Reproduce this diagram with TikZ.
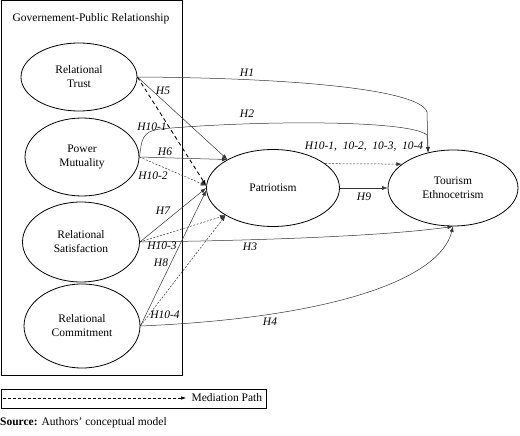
\documentclass[tikz,border=0pt]{standalone}
\usepackage{fontspec}
\setmainfont{Liberation Serif}
\usetikzlibrary{arrows.meta,shapes.geometric}
\begin{document}
\begin{tikzpicture}[x=1pt,y=-1pt,font=\fontsize{11.5}{14}\selectfont,
    var/.style={draw,ellipse,line width=0.8pt,inner sep=0pt,align=center},
    hyp/.style={draw=black!80,line width=0.5pt,-{Latex[length=5.5pt,width=4pt]}},
    med/.style={hyp,dash pattern=on 2pt off 1.5pt},
    medbold/.style={hyp,draw=black,line width=0.9pt,dash pattern=on 4pt off 3pt},
    lbl/.style={font=\fontsize{11.5}{12}\selectfont\itshape,inner sep=0pt}]
  \useasboundingbox (0,0) rectangle (520,436);
  % constructs
  \node[draw,line width=0.6pt,minimum width=181pt,minimum height=374pt,anchor=north west] (gpr) at (1,0.5) {};
  \node (ttl) at (91,19) {Governement-Public Relationship};
  \node[var,minimum width=116pt,minimum height=68pt] (rt) at (79,77) {Relational\\Trust};
  \node[var,minimum width=114pt,minimum height=78pt] (pm) at (82,157) {Power\\Mutuality};
  \node[var,minimum width=117pt,minimum height=80pt] (rs) at (81,242) {Relational\\Satisfaction};
  \node[var,minimum width=116pt,minimum height=84pt] (rc) at (82,326) {Relational\\Commitment};
  \node[var,minimum width=133pt,minimum height=77pt] (pat) at (273,188) {Patriotism};
  \node[var,minimum width=130pt,minimum height=76pt] (te) at (453,188) {Tourism\\Ethnocetrism};
  % direct paths
  \draw[hyp] (rt.east) .. controls (300,78) and (420,90) .. (427,112) -- (te.125);
  \draw[hyp] (pm.east) .. controls (142,140) and (141,132) .. (160,129) .. controls (260,120) and (410,120) .. (427,135) -- (te.125);
  \draw[hyp] (rs.east) .. controls (300,240) and (400,234) .. (te.south);
  \draw[hyp] (rc.east) .. controls (330,318) and (440,280) .. (te.south);
  \draw[hyp] (rt.east) -- (pat.148);
  \draw[hyp] (pm.east) -- (pat.148);
  \draw[hyp] (rs.east) -- (pat.180);
  \draw[hyp] (rc.east) -- (pat.182);
  \draw[hyp] (pat.east) -- (te.west);
  % mediation paths
  \draw[medbold] (rt.east) -- (pat.178);
  \draw[med] (pm.east) -- (pat.178);
  \draw[med] (rs.east) -- (pat.210);
  \draw[med] (rc.east) -- (pat.210);
  \draw[med] (pat.25) -- (te.155);
  % labels
  \foreach \nm/\x/\y/\t in {h1/247/73/H1,h2/247/114/H2,h3/250/247/H3,h4/270/322/H4,
      h5/163/91/H5,h6/165/152/H6,h7/163/211/H7,h8/161/263/H8,h9/364/197/H9,
      hm1/152/127/H10-1,hm2/153/176/H10-2,hm3/162/246/H10-3,hm4/165/315/H10-4}
    \node[lbl] (\nm) at (\x,\y) {\t};
  \node[lbl] (hall) at (364,147) {H10-1,\ \ 10-2,\ \ 10-3,\ \ 10-4};
  % legend
  \node[draw,line width=0.5pt,minimum width=265pt,minimum height=19pt,anchor=north west] (leg) at (1,388.5) {};
  \coordinate (la) at (3,398);
  \coordinate (lb) at (186,398);
  \draw[-{Latex[length=5pt,width=3.5pt]},line width=0.5pt,dash pattern=on 3pt off 2pt] (la) -- (lb);
  \node[anchor=west] (lt) at (188,398) {Mediation Path};
  \node[anchor=west,inner sep=0pt] (src) at (0,423) {\textbf{Source:} Authors’ conceptual model};
\end{tikzpicture}
\end{document}
